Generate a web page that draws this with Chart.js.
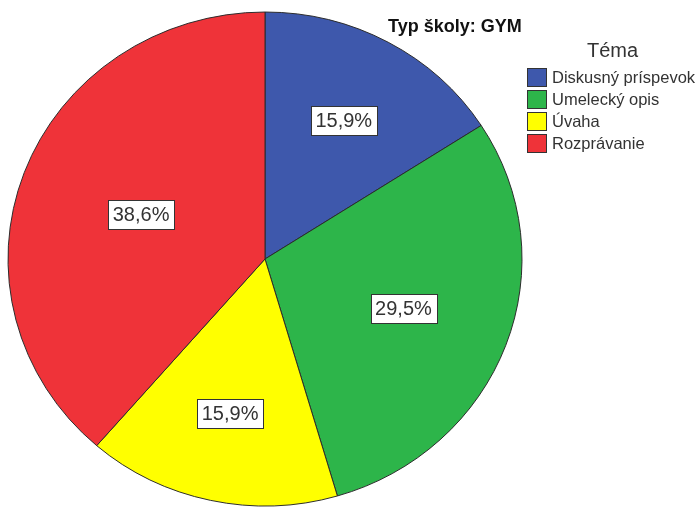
<!DOCTYPE html>
<html>
<head>
<meta charset="utf-8">
<script src="https://cdn.jsdelivr.net/npm/chart.js@4.4.1/dist/chart.umd.min.js"></script>
<style>
  html, body { margin: 0; padding: 0; background: #fff; }
  #wrap { width: 700px; height: 508px; position: relative; }
</style>
</head>
<body>
<div id="wrap"><canvas id="pie" width="700" height="508"></canvas></div>
<script>
// data (counts, n = 44)
const chartTitle = 'Typ školy: GYM';
const legendTitle = 'Téma';
const categories = ['Diskusný príspevok', 'Umelecký opis', 'Úvaha', 'Rozprávanie'];
const counts = [7, 13, 7, 17];
const percentLabels = ['15,9%', '29,5%', '15,9%', '38,6%'];
const colors = ['#3e58ac', '#2db54a', '#ffff00', '#ef3339'];

const FONT = '"Liberation Sans", Arial, sans-serif';
const SQUASH = 0.961; // the reference pie is slightly flattened

// flatten the pie vertically around its centre
const squashPlugin = {
  id: 'squash',
  beforeDatasetsDraw(chart) {
    const arc = chart.getDatasetMeta(0).data[0];
    const ctx = chart.ctx;
    ctx.save();
    ctx.translate(0, arc.y);
    ctx.scale(1, SQUASH);
    ctx.translate(0, -arc.y);
  },
  afterDatasetsDraw(chart) {
    chart.ctx.restore();
  }
};

// percentage boxes at each slice's centroid
const labelPlugin = {
  id: 'pctLabels',
  afterDatasetsDraw(chart) {
    const ctx = chart.ctx;
    const arcs = chart.getDatasetMeta(0).data;
    ctx.save();
    ctx.font = '20px ' + FONT;
    ctx.textAlign = 'center';
    ctx.textBaseline = 'middle';
    arcs.forEach((a, i) => {
      const half = (a.endAngle - a.startAngle) / 2;
      const mid = a.startAngle + half;
      const d = 2 * a.outerRadius * Math.sin(half) / (3 * half);
      const x = a.x + d * Math.cos(mid);
      const y = a.y + d * Math.sin(mid) * SQUASH;
      const txt = percentLabels[i];
      const w = ctx.measureText(txt).width + 9;
      const h = 29;
      ctx.fillStyle = '#ffffff';
      ctx.fillRect(Math.round(x - w / 2) + 0.5, Math.round(y - h / 2) + 0.5, Math.round(w), h);
      ctx.strokeStyle = '#333333';
      ctx.lineWidth = 1;
      ctx.strokeRect(Math.round(x - w / 2) + 0.5, Math.round(y - h / 2) + 0.5, Math.round(w), h);
      ctx.fillStyle = '#333333';
      ctx.fillText(txt, x, y + 1);
    });
    ctx.restore();
  }
};

// title + legend block on the right
const legendPlugin = {
  id: 'sideLegend',
  afterDraw(chart) {
    const ctx = chart.ctx;
    ctx.save();
    ctx.textBaseline = 'alphabetic';
    ctx.fillStyle = '#111111';
    ctx.font = 'bold 18px ' + FONT;
    ctx.textAlign = 'left';
    ctx.fillText(chartTitle, 388, 32);

    ctx.fillStyle = '#333333';
    ctx.font = '20px ' + FONT;
    ctx.fillText(legendTitle, 587, 57);

    ctx.font = '16.5px ' + FONT;
    const ds = chart.data.datasets[0];
    chart.data.labels.forEach((lab, i) => {
      const top = 68 + i * 22;
      ctx.fillStyle = ds.backgroundColor[i];
      ctx.fillRect(527.5, top + 0.5, 19, 18);
      ctx.strokeStyle = '#333333';
      ctx.lineWidth = 1;
      ctx.strokeRect(527.5, top + 0.5, 19, 18);
      ctx.fillStyle = '#333333';
      ctx.fillText(lab, 552, top + 15);
    });
    ctx.restore();
  }
};

new Chart(document.getElementById('pie'), {
  type: 'pie',
  data: {
    labels: categories,
    datasets: [{
      data: counts,
      backgroundColor: colors,
      borderColor: '#2a2a2a',
      borderWidth: 1,
      radius: 257
    }]
  },
  options: {
    responsive: false,
    animation: false,
    layout: { padding: { left: 8, right: 178, top: 10, bottom: 0 } },
    plugins: {
      legend: { display: false },
      title: { display: false },
      tooltip: { enabled: false }
    }
  },
  plugins: [squashPlugin, labelPlugin, legendPlugin]
});
</script>
</body>
</html>
